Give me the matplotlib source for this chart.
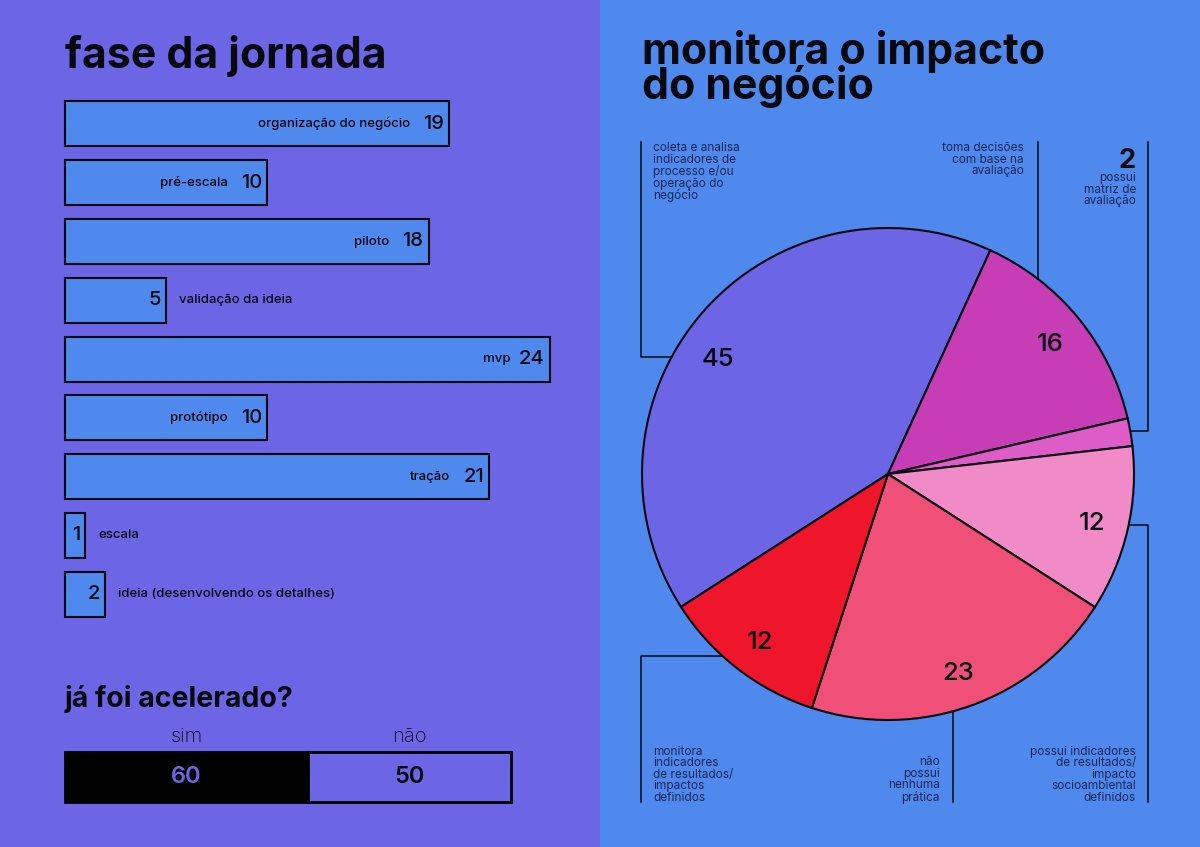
import matplotlib
matplotlib.use("Agg")
import matplotlib.pyplot as plt
from matplotlib.patches import Rectangle
import numpy as np

# ---------------- data ----------------
fase_labels = ["organização do negócio", "pré-escala", "piloto", "validação da ideia",
               "mvp", "protótipo", "tração", "escala", "ideia (desenvolvendo os detalhes)"]
fase_values = [19, 10, 18, 5, 24, 10, 21, 1, 2]

acel_labels = ["sim", "não"]
acel_values = [60, 50]

pie_values = [45, 16, 2, 12, 23, 12]
pie_texts = ["coleta e analisa\nindicadores de\nprocesso e/ou\noperação do\nnegócio",
             "toma decisões\ncom base na\navaliação",
             "possui\nmatriz de\navaliação",
             "possui indicadores\nde resultados/\nimpacto\nsocioambiental\ndefinidos",
             "não\npossui\nnenhuma\nprática",
             "monitora\nindicadores\nde resultados/\nimpactos\ndefinidos"]

# ---------------- style ----------------
PURPLE = "#6C66E6"
BLUE = "#4F89EE"
INK = "#08080f"
NOTE = "#1b2655"
pie_colors = [PURPLE, "#C63DB5", "#DE5CC8", "#F08BC8", "#F05078", "#EF152B"]
FONT = ["Inter", "DejaVu Sans"]
plt.rcParams["font.family"] = FONT

W, H = 1200, 847
fig = plt.figure(figsize=(12, 8.47), dpi=100)

def fx(x):
    return x / W

def fy(y):
    return 1 - y / H

# background / overlay axes in pixel coordinates
bg = fig.add_axes([0, 0, 1, 1], zorder=-1)
bg.set_xlim(0, W)
bg.set_ylim(H, 0)
bg.axis("off")
bg.add_patch(Rectangle((0, 0), 600, H, color=PURPLE, lw=0))
bg.add_patch(Rectangle((600, 0), 600, H, color=BLUE, lw=0))

# titles
TFS = 30.8
bg.text(65, 68, "fase da jornada", fontsize=TFS, fontweight="bold", color=INK,
        ha="left", va="baseline")
bg.text(642, 99, "monitora o impacto\ndo negócio", fontsize=TFS, fontweight="bold",
        color=INK, ha="left", va="baseline", linespacing=0.76)
bg.text(65, 707, "já foi acelerado?", fontsize=20.5, fontweight="bold", color=INK,
        ha="left", va="baseline")

# ---------------- horizontal bars ----------------
px_per_unit = 20.2
row_step = 58.75
ax = fig.add_axes([fx(65), fy(124 + 8.6 * row_step), fx(600 - 65),
                   (9.2 * row_step) / H])
ax.set_xlim(0, 535 / px_per_unit)
ax.set_ylim(8.6, -0.6)
ax.axis("off")
ypos = np.arange(len(fase_values))
ax.barh(ypos, fase_values, height=45 / row_step, color=BLUE, edgecolor=INK,
        linewidth=1.5, clip_on=False)
for i, (lab, v) in enumerate(zip(fase_labels, fase_values)):
    ax.annotate(str(v), (v, i), xytext=(-5, 0), textcoords="offset pixels",
                ha="right", va="center", fontsize=14.5, fontweight="medium", color=INK)
    if v >= 10:
        ax.annotate(lab, (v, i), xytext=(-39, 0), textcoords="offset pixels",
                    ha="right", va="center", fontsize=9.5, fontweight="medium", color=INK)
    else:
        ax.annotate(lab, (v, i), xytext=(13, 0), textcoords="offset pixels",
                    ha="left", va="center", fontsize=9.5, fontweight="medium", color=INK)

# ---------------- stacked bar ----------------
ax2 = fig.add_axes([fx(65), fy(802), fx(511 - 65), 50 / H])
ax2.set_xlim(0, sum(acel_values))
ax2.set_ylim(0, 1)
ax2.axis("off")
seg_colors = ["#000000", PURPLE]
txt_colors = [PURPLE, INK]
left = 0
for lab, v, c, tc in zip(acel_labels, acel_values, seg_colors, txt_colors):
    ax2.barh(0.5, v, left=left, height=1, color=c, edgecolor="#000000", linewidth=2,
             clip_on=False)
    ax2.text(left + v / 2, 0.5, str(v), ha="center", va="center", fontsize=17,
             fontweight="semibold", color=tc)
    ax2.text(left + v / 2, 1.31, lab, ha="center", va="center", fontsize=14.5,
             fontweight="light", color=INK)
    left += v

# ---------------- pie ----------------
CX, CY, R = 888, 474, 246
axp = fig.add_axes([fx(CX - R), fy(CY + R), 2 * R / W, 2 * R / H])
pie_lbls = [str(v) if v > 5 else "" for v in pie_values]
wedges, texts = axp.pie(pie_values, colors=pie_colors, startangle=212.7,
                        counterclock=False, radius=1, labels=pie_lbls,
                        labeldistance=0.85,
                        wedgeprops=dict(edgecolor=INK, linewidth=1.5),
                        textprops=dict(fontsize=18.5, fontweight="medium", color=INK))
for t in texts:
    t.set_ha("center")
    t.set_va("center_baseline")
# small nudge so the big-slice label sits where the reference places it
x0, y0 = texts[0].get_position()
texts[0].set_position((x0 - 0.05, y0 - 0.08))
axp.set_xlim(-1, 1)
axp.set_ylim(-1, 1)
axp.set_aspect("equal")
axp.axis("off")

# ---------------- annotations (right panel) ----------------
LW = 1.1
def edge_x(y, side):
    return CX + side * np.sqrt(R ** 2 - (y - CY) ** 2)

def edge_y(x, side):
    return CY + side * np.sqrt(R ** 2 - (x - CX) ** 2)

# top-left bracket
bg.plot([641, 641, edge_x(357, -1)], [142, 357, 357], color=INK, lw=LW)
# top middle
bg.plot([1037.5, 1037.5], [142, edge_y(1037.5, -1)], color=INK, lw=LW)
# top right
bg.plot([1147.5, 1147.5, edge_x(431, 1)], [142, 431, 431], color=INK, lw=LW)
# bottom right
bg.plot([edge_x(525, 1), 1147.5, 1147.5], [525, 525, 802], color=INK, lw=LW)
# bottom middle
bg.plot([952.5, 952.5], [edge_y(952.5, 1), 802], color=INK, lw=LW)
# bottom left
bg.plot([edge_x(656, -1), 641, 641], [656, 656, 802], color=INK, lw=LW)

NFS = 8.5
LS = 0.95
NW = "normal"
bg.text(653, 142, pie_texts[0], ha="left", va="top", fontsize=NFS, color=NOTE,
        linespacing=LS, fontweight=NW)
bg.text(1024, 142, pie_texts[1], ha="right", va="top", fontsize=NFS, color=NOTE,
        linespacing=LS, fontweight=NW)
bg.text(1136, 167.5, str(pie_values[2]), ha="right", va="baseline", fontsize=19.5,
        fontweight="bold", color=INK)
bg.text(1136, 172, pie_texts[2], ha="right", va="top", fontsize=NFS, color=NOTE,
        linespacing=LS, fontweight=NW)
bg.text(1136, 804, pie_texts[3], ha="right", va="bottom", fontsize=NFS, color=NOTE,
        linespacing=LS, fontweight=NW)
bg.text(940, 804, pie_texts[4], ha="right", va="bottom", fontsize=NFS, color=NOTE,
        linespacing=LS, fontweight=NW)
bg.text(653, 804, pie_texts[5], ha="left", va="bottom", fontsize=NFS, color=NOTE,
        linespacing=LS, fontweight=NW)

fig.savefig("out.png", dpi=100)
